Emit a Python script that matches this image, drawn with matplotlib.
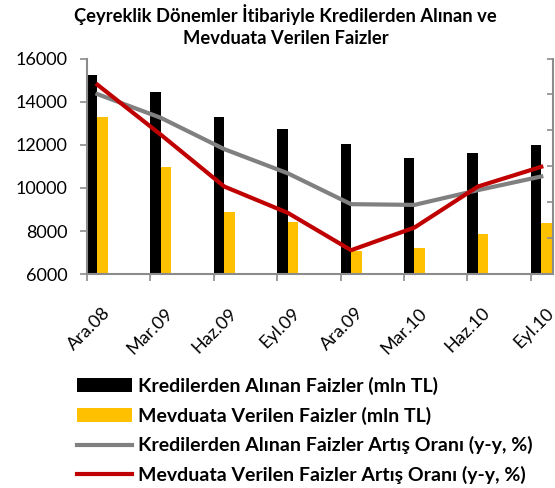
import numpy as np
import matplotlib
matplotlib.use("Agg")
import matplotlib.pyplot as plt
from matplotlib.transforms import ScaledTranslation

plt.rcParams['font.family'] = ['Lato', 'DejaVu Sans']

periods = ['Ara.08', 'Mar.09', 'Haz.09', 'Eyl.09', 'Ara.09', 'Mar.10', 'Haz.10', 'Eyl.10']

# mln TL
kredi_faiz = [15240, 14440, 13280, 12740, 12040, 11390, 11620, 11990]
mevduat_faiz = [13280, 10970, 8890, 8420, 7080, 7220, 7870, 8380]

# y-y % (sağ eksen, etiketsiz)
kredi_artis = [50.1, 43.5, 34.8, 28.1, 19.5, 19.3, 23.4, 27.2]
mevduat_artis = [52.7, 38.8, 24.4, 17.1, 6.7, 13.0, 24.4, 29.9]

title = "Çeyreklik Dönemler İtibariyle Kredilerden Alınan ve\nMevduata Verilen Faizler"

axis_gray = '#8c8c8c'

fig = plt.figure(figsize=(5.55, 4.88), dpi=100)
ax = fig.add_axes([0.1568, 0.4379, 0.8396, 0.4422])

x = np.arange(len(periods))
w = 0.165
ax.bar(x, kredi_faiz, width=w, align='edge', color='black',
       label='Kredilerden Alınan Faizler (mln TL)')
ax.bar(x + w, mevduat_faiz, width=w, align='edge', color='#FFC000',
       label='Mevduata Verilen Faizler (mln TL)')

ax.set_ylim(6000, 16000)
ax.set_yticks(range(6000, 16001, 2000))
ax.set_xlim(0, 7.35)
ax.set_xticks(x)
ax.set_xticklabels(periods, rotation=45, ha='right', va='top', rotation_mode='anchor')

for s in ['left', 'bottom']:
    ax.spines[s].set_color(axis_gray)
    ax.spines[s].set_linewidth(1.5)
ax.spines['top'].set_visible(False)
ax.spines['right'].set_visible(False)
ax.tick_params(axis='both', colors=axis_gray, labelcolor='black', labelsize=13,
               direction='out', length=5, width=1.2)
ax.tick_params(axis='y', pad=9)
ax.tick_params(axis='x', pad=17)
shift = ScaledTranslation(10.5 / 72, 0, fig.dpi_scale_trans)
for lab in ax.get_xticklabels():
    lab.set_transform(lab.get_transform() + shift)

ax2 = ax.twinx()
ax2.plot(x + w, kredi_artis, color='#808080', lw=3,
         label='Kredilerden Alınan Faizler Artış Oranı (y-y, %)')
ax2.plot(x + w, mevduat_artis, color='#C00000', lw=3,
         label='Mevduata Verilen Faizler Artış Oranı (y-y, %)')
ax2.set_ylim(0, 60)
ax2.set_yticks(range(0, 61, 10))
ax2.tick_params(axis='y', colors=axis_gray, labelright=False, direction='in',
                length=4, width=1.2)
for s in ['top', 'left', 'bottom']:
    ax2.spines[s].set_visible(False)
ax2.spines['right'].set_color(axis_gray)
ax2.spines['right'].set_linewidth(1.5)

fig.text(0.515, 0.992, title, ha='center', va='top', fontsize=13.2,
         fontweight='bold', linespacing=1.4)

h1, l1 = ax.get_legend_handles_labels()
h2, l2 = ax2.get_legend_handles_labels()
fig.legend(h1 + h2, l1 + l2, loc='upper left', bbox_to_anchor=(0.1387, 0.228),
           frameon=False, borderpad=0, borderaxespad=0, handlelength=2.85,
           handletextpad=0.3, labelspacing=0.6,
           prop={'weight': 'bold', 'size': 14})

fig.savefig('out.png', dpi=100)
